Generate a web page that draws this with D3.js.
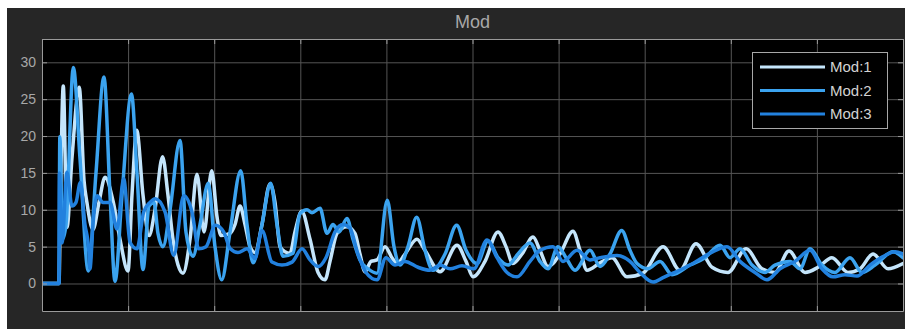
<!DOCTYPE html>
<html>
<head>
<meta charset="utf-8">
<script src="https://cdn.jsdelivr.net/npm/d3@7"></script>
<style>
  html, body { margin: 0; padding: 0; background: #ffffff; }
  svg { display: block; }
  text { font-family: "Liberation Sans", Arial, Helvetica, sans-serif; }
</style>
</head>
<body>
<svg id="chart" width="905" height="329"></svg>
<script>
// ---- chart content ----
const chartTitle = "Mod";
const seriesNames = ["Mod:1", "Mod:2", "Mod:3"];
const seriesColors = ["#c4e5fb", "#3ba3ef", "#2281de"];
const yTickValues = [0, 5, 10, 15, 20, 25, 30];
const xTickValues = [0, 1, 2, 3, 4, 5, 6, 7, 8, 9, 10];

// time (s) and value samples for each channel
const timeMod1 = [0,0.197,0.215,0.247,0.290,0.348,0.433,0.488,0.523,0.592,0.662,0.732,0.825,0.906,0.999,1.045,1.100,1.173,1.243,1.312,1.400,1.463,1.521,1.580,1.638,1.719,1.800,1.882,1.971,2.033,2.079,2.184,2.242,2.300,2.358,2.416,2.474,2.555,2.648,2.706,2.764,2.822,2.880,2.938,3.016,3.113,3.206,3.287,3.345,3.426,3.542,3.635,3.693,3.751,3.821,3.891,3.984,4.065,4.123,4.216,4.355,4.448,4.623,4.820,4.925,5.006,5.145,5.296,5.389,5.470,5.575,5.703,5.784,5.877,6.016,6.167,6.249,6.330,6.481,6.620,6.794,6.980,7.213,7.410,7.596,7.782,7.967,8.177,8.362,8.513,8.676,8.862,9.013,9.175,9.361,9.501,9.652,9.826,10];
const mod1 = [0,0,12,26.8,7.6,17,26.6,14,10.9,7.3,11,14.4,11.2,6,1.7,12,20.8,12,6.5,10,17.2,12,6,2.5,1.4,6,14.8,7,15.3,9,6.5,6.8,8,10.5,8,5,4.2,8,13.5,11,5,4.3,4.1,7,9.8,6,1.5,0.5,3,6.8,7.7,6.8,4,1.6,3,3.2,5,3.5,2.7,4,6,4.5,1.6,5.2,3,0.9,3,7,5,2.7,4,6.3,4.5,2.3,4,7.1,4.5,1.8,2.8,3.5,0.9,1.4,5,1.8,5.4,2.2,1.5,4.7,2,1.5,4.4,1.5,2.2,3.5,1.5,2,4,2,2.7];

const timeMod2 = [0,0.197,0.207,0.238,0.279,0.364,0.441,0.538,0.627,0.720,0.790,0.848,0.929,1.039,1.103,1.173,1.243,1.301,1.347,1.405,1.487,1.603,1.672,1.754,1.835,1.931,2.009,2.087,2.184,2.308,2.381,2.451,2.555,2.656,2.729,2.799,2.915,2.997,3.078,3.136,3.229,3.310,3.380,3.449,3.542,3.612,3.693,3.786,3.891,4.010,4.088,4.158,4.251,4.352,4.448,4.541,4.681,4.816,4.925,5.052,5.180,5.296,5.412,5.528,5.668,5.784,5.877,5.993,6.086,6.190,6.365,6.481,6.597,6.733,6.829,6.911,7.038,7.178,7.317,7.526,7.700,7.875,7.991,8.107,8.246,8.397,8.513,8.688,8.804,8.920,9.059,9.210,9.384,9.524,9.675,9.884,10];
const mod2 = [0,0,19.9,6,8,29.3,17,1.7,15,28,12,0.3,12,25.7,15,1.9,10.5,11,6.8,5,10,19.4,7,3.7,8,13.6,5,0.5,7,15.3,8,2.8,8,13.6,8,3.7,4.1,9.5,10,9.6,10.2,6.8,8,7,8.8,6,3.2,2,1.4,11.3,5,2.5,5,9,4.5,1.8,4,7.9,4.5,2.7,5.8,3.5,2.5,4,5.5,3,2,5,3.5,1.8,4.5,2.3,4,7.2,4.5,2.7,2,3,1.2,2.5,3.5,5.2,3.5,4.7,2.5,1.5,2.5,3,2,4.7,2.5,1.5,3.5,1.5,2.5,4.3,3.5];

const timeMod3 = [0,0.197,0.203,0.232,0.290,0.348,0.395,0.445,0.499,0.542,0.557,0.592,0.639,0.708,0.790,0.871,0.949,1.022,1.103,1.181,1.254,1.316,1.429,1.530,1.646,1.742,1.820,1.905,2.013,2.110,2.187,2.276,2.381,2.474,2.555,2.671,2.787,2.904,3.020,3.113,3.206,3.298,3.403,3.496,3.577,3.670,3.763,3.891,3.995,4.100,4.216,4.367,4.506,4.623,4.739,4.878,5.017,5.168,5.285,5.401,5.517,5.668,5.784,5.935,6.051,6.214,6.365,6.481,6.678,6.829,6.945,7.096,7.213,7.329,7.526,7.758,7.956,8.107,8.281,8.420,8.571,8.746,8.920,9.059,9.187,9.326,9.466,9.617,9.791,9.907,10];
const mod3 = [0,0,15,5.5,15.1,10.5,11,13.7,8,4.7,2,8,11.9,11,11,7.4,14.2,5.6,4.7,9.7,11,11.5,9.7,3.8,11.9,9.7,4.7,5,7.9,7,4.7,4.2,4.7,3.4,7.2,2.9,2.5,2.9,4.7,3.2,2.3,3.5,7,8,7.5,4,1.5,0.5,3.5,2.5,3,2.2,1.8,2.5,2,2.4,2,5.9,3.5,1.5,0.9,3,4.5,5,3,4.5,3.2,3.5,3.8,3,1.5,0.2,0.8,1.4,2.5,4.1,5,3,1.5,0.5,2,3,4.5,2,0.9,1.2,1,2.5,3.8,4.3,4];

const seriesTimes = [timeMod1, timeMod2, timeMod3];
const seriesValues = [mod1, mod2, mod3];

// ---- layout ----
const svg = d3.select("#chart");
const frame = { x: 7, y: 8, w: 898, h: 321 };
const plot = { left: 42, top: 39, right: 903, bottom: 311 };
const plotW = plot.right - plot.left;
const plotH = plot.bottom - plot.top;

const x = d3.scaleLinear().domain([0, 10]).range([plot.left, plot.right]);
const y = d3.scaleLinear().domain([-3.73, 33.16]).range([plot.bottom, plot.top]);

// scope window background
svg.append("rect")
  .attr("x", frame.x).attr("y", frame.y)
  .attr("width", frame.w).attr("height", frame.h)
  .attr("fill", "#262626");

// title
svg.append("text")
  .attr("x", (plot.left + plot.right) / 2)
  .attr("y", 28)
  .attr("text-anchor", "middle")
  .attr("fill", "#a8a8a8")
  .attr("font-size", 18)
  .text(chartTitle);

// axes area
svg.append("rect")
  .attr("x", plot.left).attr("y", plot.top)
  .attr("width", plotW).attr("height", plotH)
  .attr("fill", "#000000");

// grid
const gridColor = "#555555";
svg.append("g")
  .attr("transform", `translate(${plot.left},0)`)
  .call(d3.axisLeft(y).tickValues(yTickValues).tickSize(-plotW).tickFormat(""))
  .call(g => g.select(".domain").remove())
  .call(g => g.selectAll(".tick line").attr("stroke", gridColor));
svg.append("g")
  .attr("transform", `translate(0,${plot.bottom})`)
  .call(d3.axisBottom(x).tickValues(xTickValues).tickSize(-plotH).tickFormat(""))
  .call(g => g.select(".domain").remove())
  .call(g => g.selectAll(".tick line").attr("stroke", gridColor));

// series
svg.append("clipPath").attr("id", "plot-clip")
  .append("rect")
  .attr("x", plot.left).attr("y", plot.top)
  .attr("width", plotW).attr("height", plotH);

const line = d3.line()
  .x(d => x(d[0]))
  .y(d => y(d[1]))
  .curve(d3.curveMonotoneX);

const lines = svg.append("g").attr("clip-path", "url(#plot-clip)");
seriesValues.forEach((vals, i) => {
  const pts = vals.map((v, k) => [seriesTimes[i][k], v]);
  lines.append("path")
    .datum(pts)
    .attr("d", line)
    .attr("fill", "none")
    .attr("stroke", seriesColors[i])
    .attr("stroke-width", 3.5)
    .attr("stroke-linejoin", "round")
    .attr("stroke-linecap", "round");
});

// axis frame and inward ticks
const axisColor = "#9a9a9a";
function styleAxis(g) {
  g.select(".domain").attr("stroke", axisColor);
  g.selectAll(".tick line").attr("stroke", axisColor);
  g.selectAll(".tick text")
    .attr("fill", "#a8a8a8")
    .attr("font-size", 14)
    .attr("font-family", "'Liberation Sans', Arial, Helvetica, sans-serif");
}
svg.append("g")
  .attr("transform", `translate(${plot.left},0)`)
  .call(d3.axisLeft(y).tickValues(yTickValues).tickSizeInner(-5).tickSizeOuter(0).tickPadding(6))
  .call(styleAxis);
svg.append("g")
  .attr("transform", `translate(${plot.right},0)`)
  .call(d3.axisRight(y).tickValues(yTickValues).tickSizeInner(-5).tickSizeOuter(0).tickFormat(""))
  .call(styleAxis);
svg.append("g")
  .attr("transform", `translate(0,${plot.top})`)
  .call(d3.axisTop(x).tickValues(xTickValues).tickSizeInner(-5).tickSizeOuter(0).tickFormat(""))
  .call(styleAxis);
svg.append("g")
  .attr("transform", `translate(0,${plot.bottom})`)
  .call(d3.axisBottom(x).tickValues(xTickValues).tickSizeInner(-5).tickSizeOuter(0).tickFormat(""))
  .call(styleAxis);

// legend
const legend = svg.append("g").attr("transform", "translate(752,52)");
legend.append("rect")
  .attr("x", 0.5).attr("y", 0.5)
  .attr("width", 135).attr("height", 76)
  .attr("fill", "#000000")
  .attr("stroke", "#a8a8a8")
  .attr("stroke-width", 1);
seriesNames.forEach((name, i) => {
  const ly = 15 + i * 23.5;
  legend.append("line")
    .attr("x1", 8).attr("x2", 73)
    .attr("y1", ly).attr("y2", ly)
    .attr("stroke", seriesColors[i])
    .attr("stroke-width", 3);
  legend.append("text")
    .attr("x", 78)
    .attr("y", ly)
    .attr("dy", "0.36em")
    .attr("fill", "#d2d2d2")
    .attr("font-size", 15)
    .text(name);
});
</script>
</body>
</html>
